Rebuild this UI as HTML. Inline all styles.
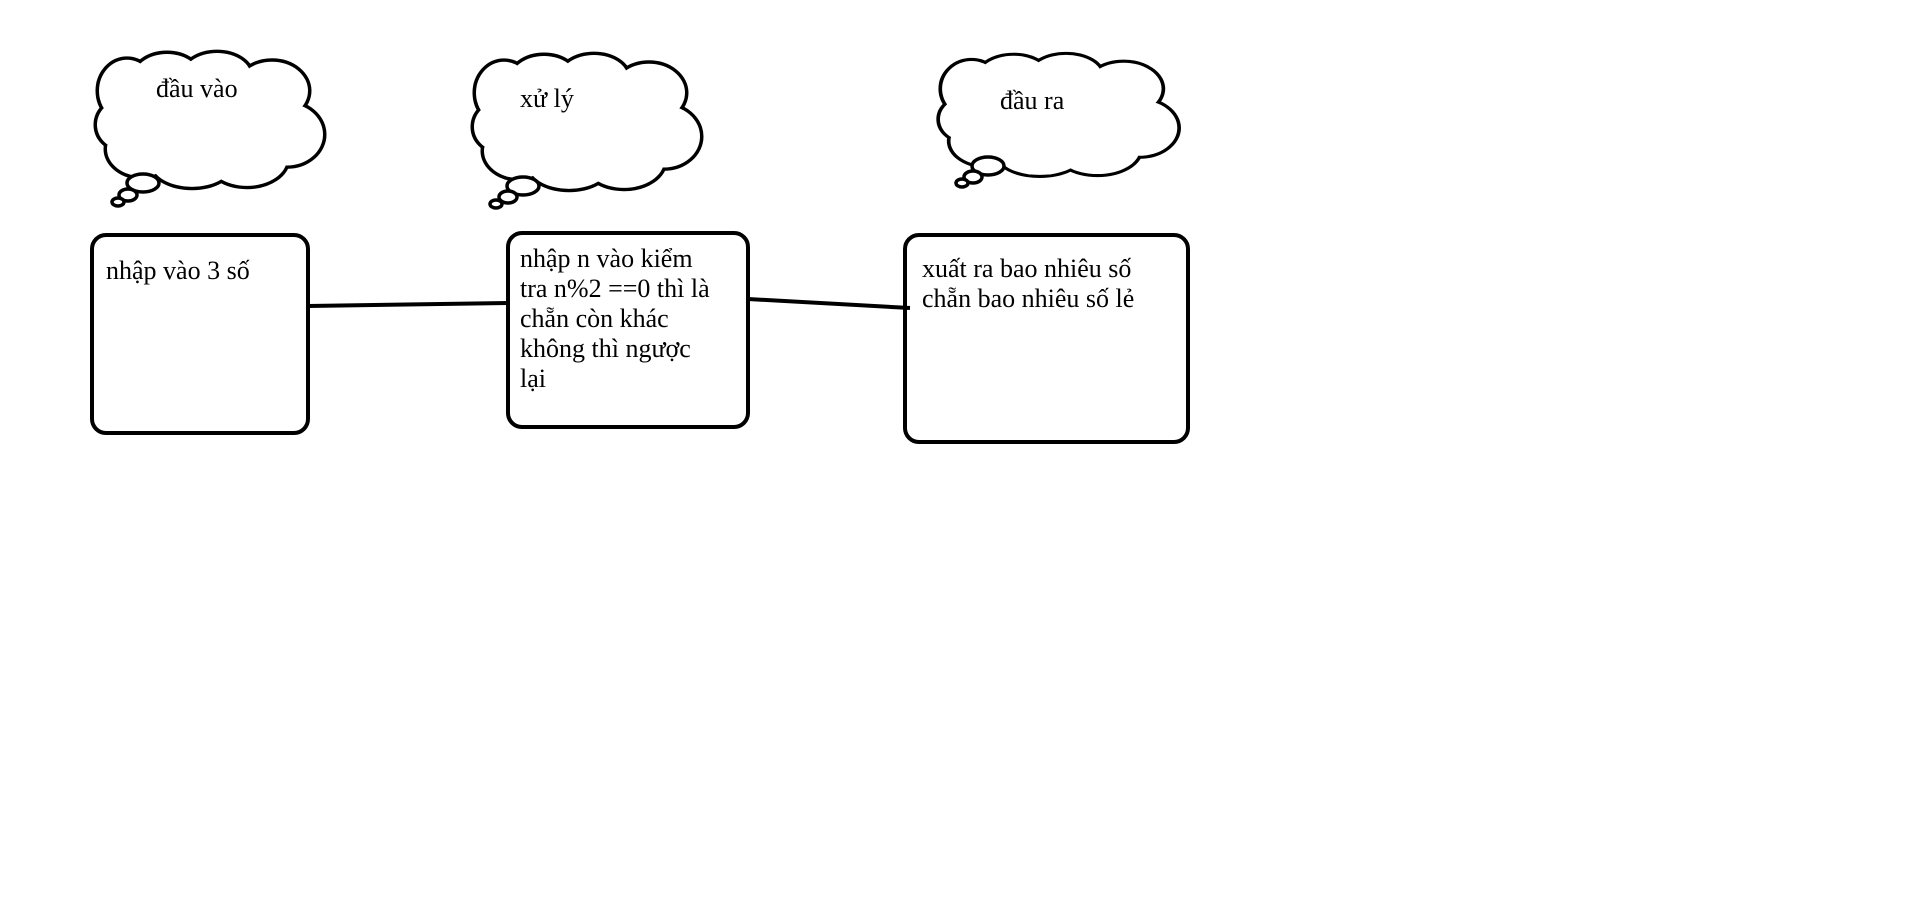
<!DOCTYPE html>
<html><head><meta charset="utf-8"><style>
html,body{margin:0;padding:0;background:#fff;width:1913px;height:897px;overflow:hidden}
svg{position:absolute;left:0;top:0}
text{font-family:"Liberation Serif",serif;font-size:26px;fill:#000}
</style></head><body>
<svg width="1913" height="897" viewBox="0 0 1913 897">
<defs>
 <g id="cc">
  <ellipse cx="30" cy="40" rx="28" ry="32"/>
  <ellipse cx="70" cy="28" rx="34" ry="26"/>
  <ellipse cx="120" cy="25" rx="34" ry="24"/>
  <ellipse cx="175" cy="40" rx="36" ry="30"/>
  <ellipse cx="190" cy="85" rx="36" ry="32"/>
  <ellipse cx="150" cy="110" rx="40" ry="28"/>
  <ellipse cx="95" cy="115" rx="40" ry="24"/>
  <ellipse cx="45" cy="100" rx="35" ry="28"/>
  <ellipse cx="25" cy="75" rx="25" ry="25"/>
  <ellipse cx="105" cy="70" rx="85" ry="48"/>
 </g>
</defs>
<g transform="translate(97,52) scale(1.0,0.97)">
 <use href="#cc" fill="none" stroke="#000" stroke-width="7"/>
 <use href="#cc" fill="#fff" stroke="none"/>
</g>
<g transform="translate(474,54) scale(1.0,0.97)">
 <use href="#cc" fill="none" stroke="#000" stroke-width="7"/>
 <use href="#cc" fill="#fff" stroke="none"/>
</g>
<g transform="translate(940,54) scale(1.05,0.87)">
 <use href="#cc" fill="none" stroke="#000" stroke-width="7"/>
 <use href="#cc" fill="#fff" stroke="none"/>
</g>
<g fill="#fff" stroke="#000" stroke-width="3.5">
 <ellipse cx="143" cy="183" rx="16" ry="9"/><ellipse cx="128" cy="195" rx="9" ry="6"/><ellipse cx="118" cy="202" rx="6" ry="4"/>
 <ellipse cx="523" cy="186" rx="16" ry="9"/><ellipse cx="508" cy="197" rx="9" ry="6"/><ellipse cx="496" cy="204" rx="6" ry="4"/>
 <ellipse cx="988" cy="166" rx="16" ry="9"/><ellipse cx="973" cy="177" rx="9" ry="6"/><ellipse cx="962" cy="183" rx="6" ry="4"/>
</g>
<text x="156" y="97">đầu vào</text>
<text x="520" y="107">xử lý</text>
<text x="1000" y="109">đầu ra</text>
<g fill="none" stroke="#000" stroke-width="4">
 <rect x="92" y="235" width="216" height="198" rx="14"/>
 <rect x="508" y="233" width="240" height="194" rx="14"/>
 <rect x="905" y="235" width="283" height="207" rx="14"/>
 <line x1="308" y1="306" x2="508" y2="303"/>
 <line x1="748" y1="299" x2="910" y2="308"/>
</g>
<text x="106" y="279">nhập vào 3 số</text>
<text x="520" y="267">nhập n vào kiểm</text>
<text x="520" y="297">tra n%2 ==0 thì là</text>
<text x="520" y="327">chẵn còn khác</text>
<text x="520" y="357">không thì ngược</text>
<text x="520" y="387">lại</text>
<text x="922" y="277">xuất ra bao nhiêu số</text>
<text x="922" y="307">chẵn bao nhiêu số lẻ</text>
</svg>
</body></html>
